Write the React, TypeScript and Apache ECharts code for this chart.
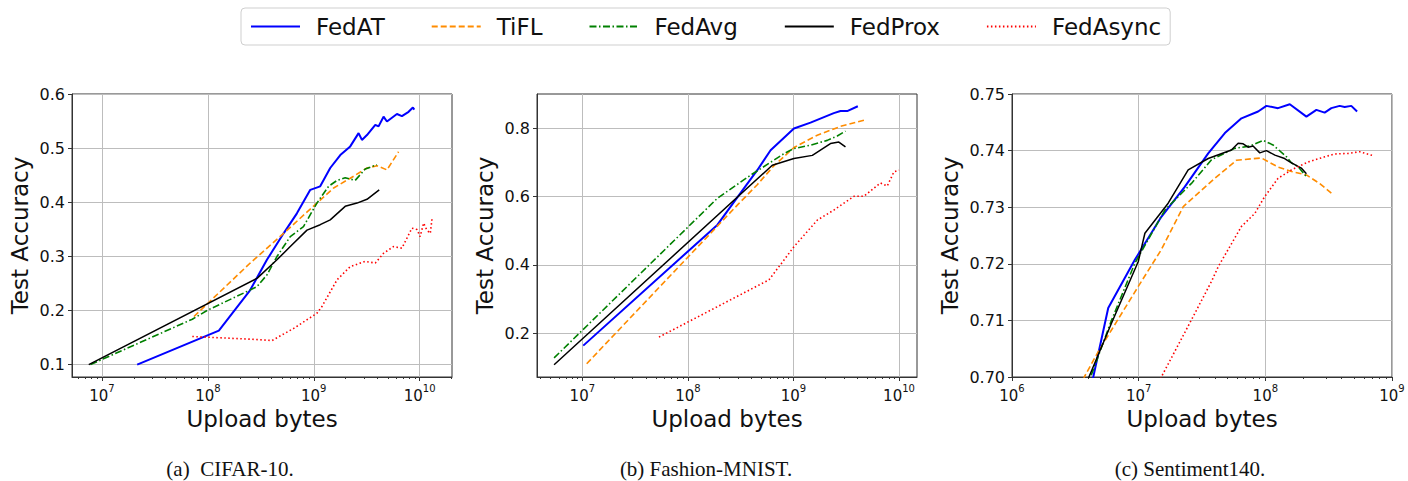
import React, { useEffect, useRef } from "react";
import * as echarts from "echarts";

const methods = ["FedAT", "TiFL", "FedAvg", "FedProx", "FedAsync"];
const captions = ["(a)  CIFAR-10.", "(b) Fashion-MNIST.", "(c) Sentiment140."];

// ---- (a) CIFAR-10 ----
const cifarFedAT: [number, number][] = [
  [2.15e7, 0.1], [1.27e8, 0.163], [2.51e8, 0.238], [3.61e8, 0.294], [5.19e8, 0.343], [6.93e8, 0.38],
  [9.27e8, 0.4235], [1.15e9, 0.43], [1.43e9, 0.464], [1.78e9, 0.488], [2.21e9, 0.504], [2.65e9, 0.5285],
  [2.85e9, 0.516], [3.18e9, 0.525], [3.81e9, 0.544], [4.09e9, 0.541], [4.56e9, 0.559], [4.91e9, 0.55],
  [6.1e9, 0.564], [6.8e9, 0.56], [7.86e9, 0.568], [8.63e9, 0.576], [8.9e9, 0.572],
];
const cifarTiFL: [number, number][] = [
  [7.39e7, 0.189], [2.51e8, 0.288], [5.19e8, 0.343], [1.07e9, 0.399], [1.54e9, 0.427], [2.21e9, 0.445],
  [3.18e9, 0.464], [3.95e9, 0.468], [4.91e9, 0.4605], [6.32e9, 0.494],
];
const cifarFedAvg: [number, number][] = [
  [7.8e6, 0.1], [7.13e7, 0.184], [1.0e8, 0.201], [2.5e8, 0.238], [2.91e8, 0.2444], [3.61e8, 0.266],
  [4.49e8, 0.3], [6.0e8, 0.337], [8.0e8, 0.3556], [1.07e9, 0.399], [1.38e9, 0.43], [1.66e9, 0.441],
  [1.98e9, 0.446], [2.46e9, 0.441], [3.06e9, 0.462], [3.95e9, 0.47],
];
const cifarFedProx: [number, number][] = [
  [7.5e6, 0.1], [2.93e8, 0.26], [4.49e8, 0.294], [6.0e8, 0.3185], [8.63e8, 0.349], [1.15e9, 0.359],
  [1.43e9, 0.368], [1.98e9, 0.393], [2.56e9, 0.399], [3.18e9, 0.406], [4.15e9, 0.4235],
];
const cifarFedAsync: [number, number][] = [
  [7.13e7, 0.152], [2.51e8, 0.147], [4.03e8, 0.1445], [6.46e8, 0.167], [1.07e9, 0.195], [1.19e9, 0.207],
  [1.66e9, 0.257], [2.21e9, 0.2815], [3.06e9, 0.291], [3.81e9, 0.288], [4.56e9, 0.306], [5.66e9, 0.3185],
  [6.8e9, 0.3155], [8.45e9, 0.3526], [9.44e9, 0.35], [1.01e10, 0.337], [1.09e10, 0.362], [1.17e10, 0.349],
  [1.26e10, 0.343], [1.31e10, 0.371],
];

// ---- (b) Fashion-MNIST ----
const fmnistFedAT: [number, number][] = [
  [1.02e7, 0.163], [1.9e8, 0.517], [2.94e8, 0.598], [4.54e8, 0.6775], [6.07e8, 0.736], [1.01e9, 0.8],
  [1.45e9, 0.817], [2.41e9, 0.845], [2.79e9, 0.851], [3.23e9, 0.851], [4.07e9, 0.865],
];
const fmnistTiFL: [number, number][] = [
  [1.1e7, 0.11], [3.0e8, 0.578], [4.54e8, 0.635], [6.5e8, 0.69], [1.01e9, 0.744], [1.68e9, 0.78],
  [2.79e9, 0.806], [4.65e9, 0.824],
];
const fmnistFedAvg: [number, number][] = [
  [5.4e6, 0.127], [1.9e8, 0.595], [3.93e8, 0.663], [8.13e8, 0.726], [1.01e9, 0.741], [1.45e9, 0.751],
  [2.09e9, 0.765], [2.6e9, 0.778], [3.11e9, 0.792],
];
const fmnistFedProx: [number, number][] = [
  [5.4e6, 0.107], [6.3e8, 0.692], [1.01e9, 0.712], [1.51e9, 0.721], [2.24e9, 0.7555], [2.69e9, 0.76],
  [3.11e9, 0.746],
];
const fmnistFedAsync: [number, number][] = [
  [5.32e7, 0.188], [5.86e8, 0.356], [8.13e8, 0.414], [1.01e9, 0.453], [1.68e9, 0.531], [2.41e9, 0.5605],
  [3.74e9, 0.601], [4.65e9, 0.601], [6.68e9, 0.64], [7.73e9, 0.631], [8.95e9, 0.6725], [1.0e10, 0.6775],
];

// ---- (c) Sentiment140 ----
const sentFedAT: [number, number][] = [
  [4.2e6, 0.6985], [4.38e6, 0.7], [5.75e6, 0.7122], [9.33e6, 0.7207], [1.51e7, 0.7283], [2.31e7, 0.7336],
  [3.54e7, 0.7395], [4.79e7, 0.7431], [6.48e7, 0.7457], [8.77e7, 0.7469], [1.02e8, 0.7479], [1.26e8, 0.7475],
  [1.56e8, 0.7482], [2.11e8, 0.746], [2.53e8, 0.7472], [2.94e8, 0.7467], [3.32e8, 0.7475], [3.86e8, 0.7479],
  [4.23e8, 0.7477], [4.77e8, 0.7479], [5.3e8, 0.7469],
];
const sentTiFL: [number, number][] = [
  [3.5e6, 0.698], [3.72e6, 0.7], [4.8e6, 0.7045], [6.1e6, 0.7083], [9.93e6, 0.716], [1.51e7, 0.7225],
  [2.25e7, 0.7301], [3.99e7, 0.7351], [5.92e7, 0.7383], [9.3e7, 0.7387], [1.26e8, 0.7371], [1.61e8, 0.7363],
  [2.11e8, 0.7357], [2.68e8, 0.7342], [3.32e8, 0.7325],
];
const sentFedAvg: [number, number][] = [
  [4.0e6, 0.698], [4.17e6, 0.7], [6.1e6, 0.71], [9.33e6, 0.7201], [1.61e7, 0.7295], [2.61e7, 0.7342],
  [3.76e7, 0.7384], [5.74e7, 0.7404], [7.53e7, 0.7408], [9.6e7, 0.7418], [1.15e8, 0.741], [1.47e8, 0.7389],
  [1.61e8, 0.7378], [1.81e8, 0.7372], [2.11e8, 0.7354],
];
const sentFedProx: [number, number][] = [
  [3.9e6, 0.698], [4.05e6, 0.7], [6.1e6, 0.7095], [9.93e6, 0.7204], [1.12e7, 0.7254], [1.71e7, 0.7307],
  [2.46e7, 0.7366], [3.54e7, 0.7386], [5.4e7, 0.7401], [6.1e7, 0.7413], [6.68e7, 0.7412], [7.31e7, 0.7406],
  [8.0e7, 0.7408], [9.04e7, 0.7396], [1.02e8, 0.74], [1.19e8, 0.7392], [1.42e8, 0.7386], [1.56e8, 0.738],
  [1.81e8, 0.7372], [1.93e8, 0.7369], [2.11e8, 0.7359],
];
const sentFedAsync: [number, number][] = [
  [1.45e7, 0.699], [1.51e7, 0.7], [2.61e7, 0.7101], [3.76e7, 0.7169], [4.25e7, 0.7195], [6.48e7, 0.7266],
  [8.26e7, 0.7289], [9.9e7, 0.7319], [1.26e8, 0.7351], [1.61e8, 0.7366], [2.18e8, 0.738], [2.94e8, 0.7389],
  [3.53e8, 0.7394], [4.5e8, 0.7395], [5.56e8, 0.7398], [7.1e8, 0.7391],
];

// tick labels
const xTicksA = [1e7, 1e8, 1e9, 1e10];
const xTicksB = [1e7, 1e8, 1e9, 1e10];
const xTicksC = [1e6, 1e7, 1e8, 1e9];
const yTicksA = [0.1, 0.2, 0.3, 0.4, 0.5, 0.6];
const yTicksB = [0.2, 0.4, 0.6, 0.8];
const yTicksC = [0.7, 0.71, 0.72, 0.73, 0.74, 0.75];

const FONT = "DejaVu Sans";

function minorTicks(min: number, max: number): number[] {
  const out: number[] = [];
  for (let e = 5; e <= 10; e++) {
    for (let m = 2; m <= 9; m++) {
      const v = m * Math.pow(10, e);
      if (v > min && v < max) out.push(v);
    }
  }
  return out;
}

const styles = [
  { color: "#0000ff", width: 2, type: "solid" as any },
  { color: "#ff8c00", width: 1.6, type: [6, 3] as any },
  { color: "#008000", width: 1.6, type: [7, 2.5, 1.5, 2.5] as any },
  { color: "#000000", width: 1.5, type: "solid" as any },
  { color: "#ff0000", width: 1.6, type: [1.5, 2.5] as any },
];

const panels = [
  {
    left: 72, xmin: 5.21e6, xmax: 2.02e10, ymin: 0.077, ymax: 0.601, xTicks: xTicksA, yTicks: yTicksA, digits: 1, nameGap: 41, capX: 230,
    data: [cifarFedAT, cifarTiFL, cifarFedAvg, cifarFedProx, cifarFedAsync],
  },
  {
    left: 537, xmin: 3.72e6, xmax: 1.48e10, ymin: 0.071, ymax: 0.901, xTicks: xTicksB, yTicks: yTicksB, digits: 1, nameGap: 41, capX: 706,
    data: [fmnistFedAT, fmnistTiFL, fmnistFedAvg, fmnistFedProx, fmnistFedAsync],
  },
  {
    left: 1012, xmin: 1e6, xmax: 1e9, ymin: 0.7, ymax: 0.75, xTicks: xTicksC, yTicks: yTicksC, digits: 2, nameGap: 51, capX: 1190,
    data: [sentFedAT, sentTiFL, sentFedAvg, sentFedProx, sentFedAsync],
  },
];

const GRID_TOP = 94;
const GRID_W = 380;
const GRID_H = 283;

export default function App() {
  const ref = useRef<HTMLDivElement>(null);
  useEffect(() => {
    if (!ref.current) return;
    const chart = echarts.init(ref.current, null, { renderer: "svg" });
    const grid: any[] = [];
    const xAxis: any[] = [];
    const yAxis: any[] = [];
    const series: any[] = [];
    const graphic: any[] = [];
    panels.forEach((p, pi) => {
      grid.push({
        left: p.left, top: GRID_TOP, width: GRID_W, height: GRID_H, show: true,
        borderColor: "#333", borderWidth: 1, backgroundColor: "transparent",
      });
      xAxis.push({
        type: "log", gridIndex: pi, min: p.xmin, max: p.xmax, logBase: 10,
        axisLine: { show: true, lineStyle: { color: "#333", width: 1 } },
        axisTick: { show: true, length: 4, lineStyle: { color: "#333" }, customValues: p.xTicks },
        axisLabel: {
          customValues: p.xTicks, margin: 6,
          formatter: (v: number) => `{b|10}{e|${Math.round(Math.log10(v))}}`,
          rich: {
            b: { fontFamily: FONT, fontSize: 15, color: "#111", lineHeight: 20, verticalAlign: "bottom" },
            e: { fontFamily: FONT, fontSize: 10, color: "#111", lineHeight: 10, verticalAlign: "top" },
          },
        },
        splitLine: { show: true, lineStyle: { color: "#bdbdbd", width: 1 } },
        name: "Upload bytes", nameLocation: "middle", nameGap: 27,
        nameTextStyle: { fontFamily: FONT, fontSize: 23, color: "#111" },
      });
      xAxis.push({
        type: "log", gridIndex: pi, min: p.xmin, max: p.xmax, logBase: 10, position: "bottom",
        axisLine: { show: false }, axisLabel: { show: false }, splitLine: { show: false },
        axisTick: { show: true, length: 2, lineStyle: { color: "#333" }, customValues: minorTicks(p.xmin, p.xmax) },
      });
      yAxis.push({
        type: "value", gridIndex: pi, min: p.ymin, max: p.ymax,
        axisLine: { show: true, lineStyle: { color: "#333", width: 1 } },
        axisTick: { show: true, length: 4, lineStyle: { color: "#333" }, customValues: p.yTicks },
        axisLabel: {
          customValues: p.yTicks, margin: 7, fontFamily: FONT, fontSize: 16, color: "#111",
          formatter: (v: number) => v.toFixed(p.digits),
        },
        splitLine: { show: true, lineStyle: { color: "#bdbdbd", width: 1 } },
        name: "Test Accuracy", nameLocation: "middle", nameGap: p.nameGap,
        nameTextStyle: { fontFamily: FONT, fontSize: 23, color: "#111" },
      });
      p.data.forEach((d, mi) => {
        series.push({
          type: "line", name: methods[mi], xAxisIndex: pi * 2, yAxisIndex: pi, data: d,
          symbol: "none", showSymbol: false, clip: true,
          lineStyle: { color: styles[mi].color, width: styles[mi].width, type: styles[mi].type },
          itemStyle: { color: styles[mi].color },
        });
      });
      graphic.push({
        type: "text", x: p.capX, y: 469,
        style: {
          text: captions[pi], fontFamily: "Liberation Serif", fontSize: 21, fill: "#111",
          align: "center", verticalAlign: "middle",
        },
      });
    });
    chart.setOption({
      animation: false,
      backgroundColor: "#fff",
      legend: {
        data: methods, left: 241, top: 8, orient: "horizontal",
        borderColor: "#cfcfcf", borderWidth: 1, borderRadius: 4, padding: [7, 9],
        itemWidth: 49, itemHeight: 14, itemGap: 46,
        itemStyle: { opacity: 0 },
        textStyle: { fontFamily: FONT, fontSize: 23, color: "#111", padding: [0, 0, 0, 11] },
      },
      grid, xAxis, yAxis, series, graphic,
    });
    return () => chart.dispose();
  }, []);
  return <div ref={ref} style={{ position: "absolute", left: 0, top: 0, width: 1408, height: 481 }} />;
}
